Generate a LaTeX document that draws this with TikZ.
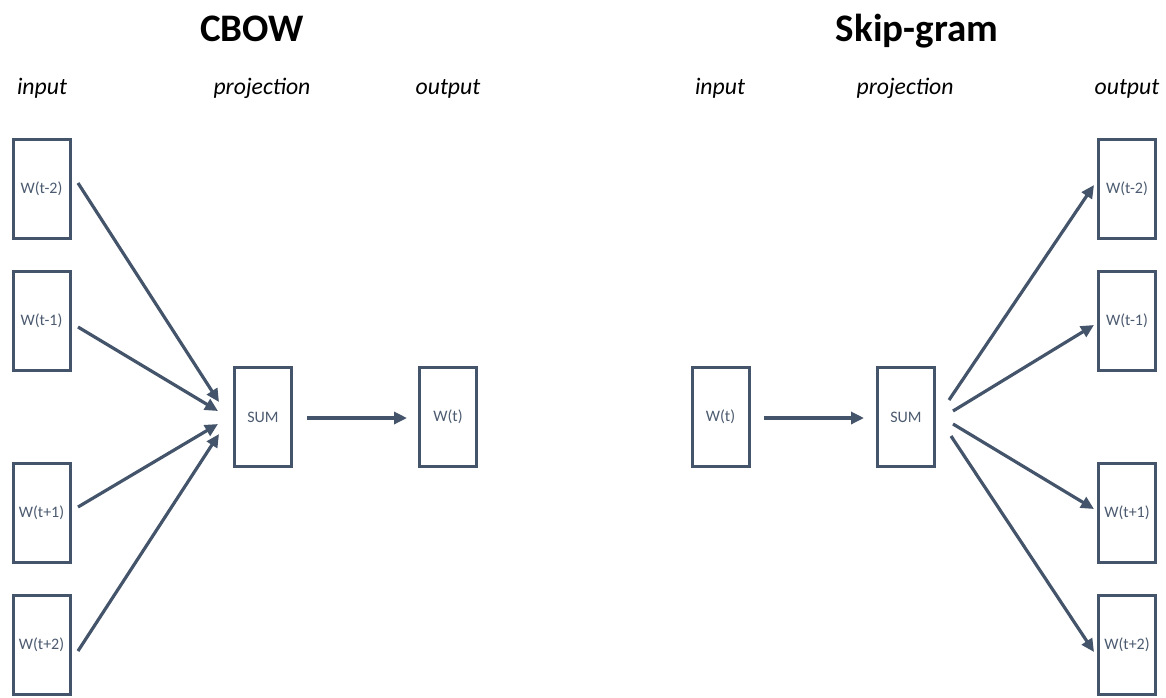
\documentclass[tikz,border=0pt]{standalone}
\usepackage{fontspec}
\setmainfont{Carlito}
\usetikzlibrary{arrows.meta}
\definecolor{slate}{HTML}{44546A}
\definecolor{slatetext}{HTML}{4C5B70}
\tikzset{
  wbox/.style={draw=slate, line width=3pt, fill=white, minimum width=57pt, minimum height=99pt,
    inner sep=0pt, text=slatetext, font=\fontsize{16}{19}\selectfont},
  conn/.style={draw=slate, line width=3.2pt, -{Triangle[length=13pt,width=12pt]}},
  title/.style={font=\fontsize{39}{44}\selectfont\bfseries, anchor=base},
  layer/.style={font=\fontsize{23.7}{28}\selectfont\itshape, anchor=base}
}
\begin{document}
\begin{tikzpicture}[x=1pt,y=-1pt]
\useasboundingbox (0,0) rectangle (1166,697);
% titles
\node[title] (t1) at (252,41) {CBOW};
\node[title] (t2) at (917,41) {Skip-gram};
\node[layer] (l1) at (42,94) {input};
\node[layer] (l2) at (262,94) {projection};
\node[layer] (l3) at (448,94) {output};
\node[layer] (l4) at (720,94) {input};
\node[layer] (l5) at (905,94) {projection};
\node[layer] (l6) at (1127,94) {output};
% CBOW
\node[wbox] (i1) at (41.5,189) {W(t-2)};
\node[wbox] (i2) at (41.5,321) {W(t-1)};
\node[wbox] (i3) at (41.5,513) {W(t+1)};
\node[wbox] (i4) at (41.5,645) {W(t+2)};
\node[wbox] (s1) at (263,417) {SUM};
\node[wbox] (o1) at (448,417) {W(t)};
\coordinate (a1) at (78,183);
\coordinate (a2) at (78,327);
\coordinate (a3) at (78,507);
\coordinate (a4) at (78,651);
\coordinate (b1) at (219,402);
\coordinate (b2) at (218,411);
\coordinate (b3) at (218,424);
\coordinate (b4) at (219,434);
\draw[conn] (a1) -- (b1);
\draw[conn] (a2) -- (b2);
\draw[conn] (a3) -- (b3);
\draw[conn] (a4) -- (b4);
\coordinate (c1) at (307,418);
\coordinate (c2) at (407,418);
\draw[conn] (c1) -- (c2);
% Skip-gram
\node[wbox] (x1) at (720.5,417) {W(t)};
\node[wbox] (s2) at (906,417) {SUM};
\node[wbox] (y1) at (1127,189) {W(t-2)};
\node[wbox] (y2) at (1127,321) {W(t-1)};
\node[wbox] (y3) at (1127,513) {W(t+1)};
\node[wbox] (y4) at (1127,645) {W(t+2)};
\coordinate (d1) at (764,418);
\coordinate (d2) at (864,418);
\draw[conn] (d1) -- (d2);
\coordinate (e1) at (949,400);
\coordinate (e2) at (953,411);
\coordinate (e3) at (953,424);
\coordinate (e4) at (951,436);
\coordinate (f1) at (1094,185);
\coordinate (f2) at (1094,325);
\coordinate (f3) at (1094,509);
\coordinate (f4) at (1094,652);
\draw[conn] (e1) -- (f1);
\draw[conn] (e2) -- (f2);
\draw[conn] (e3) -- (f3);
\draw[conn] (e4) -- (f4);
\end{tikzpicture}
\end{document}
